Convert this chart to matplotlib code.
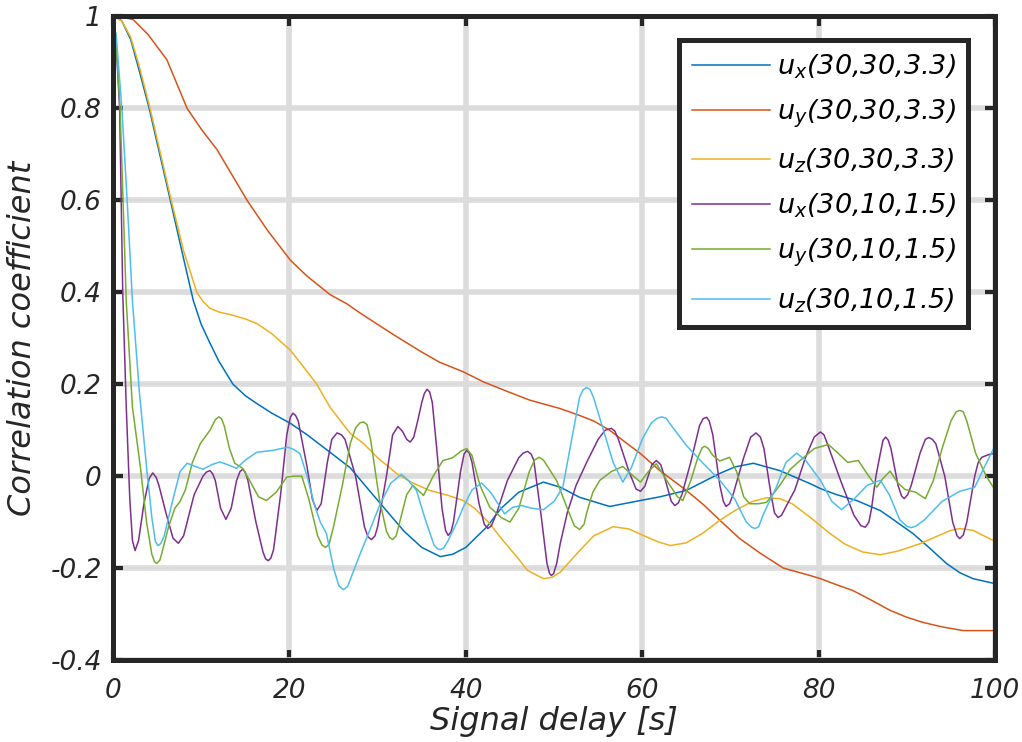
import matplotlib
matplotlib.use('Agg')
import matplotlib.pyplot as plt
from matplotlib.ticker import FormatStrFormatter

# u_x(30,30,3.3)
ux1_t = [0, 0.5, 1, 2, 3, 4.1, 5.3, 6.5, 7.8, 9.1, 10, 11, 12, 13.6, 15, 16.3, 18, 20.1, 22, 24.6,
         26.9, 29, 31, 33, 35, 37.1, 38.5, 40, 42.4, 44, 46, 48.8, 50.7, 52.9, 56.3, 59.8, 62, 65,
         68.8, 70.5, 72.6, 75.6, 79, 80.2, 82, 84.3, 87, 88.5, 90.7, 92.5, 94.5, 96, 97.5, 99.8, 100]
ux1 = [1, 0.998, 0.99, 0.95, 0.88, 0.8, 0.7, 0.6, 0.49, 0.382, 0.33, 0.289, 0.25, 0.2, 0.175, 0.158,
       0.137, 0.115, 0.09, 0.052, 0.018, -0.03, -0.075, -0.12, -0.155, -0.175, -0.17, -0.155, -0.11,
       -0.07, -0.035, -0.013, -0.024, -0.046, -0.066, -0.053, -0.045, -0.031, 0.006, 0.02, 0.028,
       0.012, -0.016, -0.027, -0.04, -0.053, -0.075, -0.095, -0.125, -0.155, -0.19, -0.21, -0.223,
       -0.233, -0.233]

# u_y(30,30,3.3)
uy1_t = [0, 1, 2.3, 4, 6.1, 8.4, 10, 11.8, 13.5, 15.2, 17.5, 20.1, 22, 24.6, 26.5, 28, 30, 32.2, 35,
         37, 39.7, 42, 45, 47.3, 50.7, 52.9, 54.5, 56.3, 58, 59.8, 62, 65, 67, 68.8, 71, 73.4, 76, 79,
         80.2, 82, 83.9, 86, 88.1, 90, 91.8, 94, 96.4, 99.8, 100]
uy1 = [1, 0.999, 0.993, 0.96, 0.906, 0.8, 0.755, 0.71, 0.655, 0.6, 0.535, 0.47, 0.435, 0.395, 0.375,
       0.355, 0.33, 0.303, 0.27, 0.248, 0.227, 0.205, 0.182, 0.165, 0.147, 0.132, 0.12, 0.1, 0.075,
       0.049, 0.012, -0.031, -0.063, -0.096, -0.135, -0.168, -0.2, -0.216, -0.223, -0.236, -0.249,
       -0.27, -0.292, -0.307, -0.318, -0.328, -0.336, -0.336, -0.336]

# u_z(30,30,3.3)
uz1_t = [0, 1, 2, 3, 4.2, 5.4, 6.6, 8, 9.5, 10.2, 11, 12, 13.6, 15, 16.3, 18, 20.1, 21.5, 23.1, 24.6,
         26, 26.9, 28.4, 30, 32.2, 34, 35.9, 38, 39.7, 41, 42.7, 44, 45.8, 47, 48.8, 49.8, 50.7, 52.9,
         54.5, 56.7, 58.5, 60, 61.8, 63.2, 65, 66.8, 68.8, 70.5, 72.5, 74.1, 75.6, 77, 79, 81.3, 83,
         85, 87, 89, 91.5, 93.5, 95, 96, 97.5, 99.8, 100]
uz1 = [1, 0.99, 0.955, 0.89, 0.8, 0.7, 0.6, 0.49, 0.4, 0.38, 0.365, 0.357, 0.35, 0.342, 0.332, 0.31,
       0.274, 0.24, 0.2, 0.15, 0.115, 0.093, 0.071, 0.04, 0.005, -0.015, -0.031, -0.042, -0.053,
       -0.07, -0.103, -0.135, -0.176, -0.205, -0.223, -0.22, -0.209, -0.162, -0.13, -0.11, -0.115,
       -0.128, -0.143, -0.151, -0.145, -0.125, -0.096, -0.075, -0.055, -0.047, -0.049, -0.06, -0.089,
       -0.125, -0.148, -0.165, -0.171, -0.163, -0.147, -0.13, -0.118, -0.114, -0.118, -0.14, -0.14]

# u_x(30,10,1.5)  (delay, coefficient)
ux2_pts = [(0, 1), (0.3, 0.96), (0.75, 0.8), (1.1, 0.4), (1.5, 0.15), (1.9, -0.05), (2.2, -0.14),
           (2.5, -0.162), (2.9, -0.14), (3.5, -0.06), (4.1, -0.005), (4.5, 0.007), (4.9, -0.003),
           (5.2, -0.02), (6.0, -0.08), (6.8, -0.135), (7.4, -0.146), (8.0, -0.13), (8.6, -0.085),
           (9.2, -0.04), (10.2, 0.0), (10.6, 0.009), (11, 0.012), (11.3, 0.005), (11.6, -0.01),
           (12.2, -0.07), (12.8, -0.094), (13.4, -0.07), (14.0, -0.01), (14.4, 0.01), (14.7, 0.015),
           (15.0, 0.008), (15.3, -0.01), (16.2, -0.1), (17, -0.165), (17.3, -0.18), (17.6, -0.184),
           (17.9, -0.178), (18.2, -0.16), (19, -0.04), (19.7, 0.09), (20.1, 0.128), (20.4, 0.137),
           (20.7, 0.132), (21, 0.12), (22, 0.02), (22.6, -0.05), (23.1, -0.075), (23.6, -0.06),
           (24.3, 0.03), (24.8, 0.08), (25.4, 0.094), (25.9, 0.09), (26.3, 0.08), (27.5, 0.0),
           (28.5, -0.11), (28.9, -0.132), (29.3, -0.138), (29.7, -0.13), (30, -0.11), (31, 0.0),
           (31.7, 0.09), (32.3, 0.108), (32.8, 0.098), (33.3, 0.08), (33.7, 0.074), (34.1, 0.085),
           (34.6, 0.125), (35, 0.16), (35.3, 0.18), (35.6, 0.189), (35.9, 0.183), (36.2, 0.16),
           (36.7, 0.06), (37.3, -0.07), (37.7, -0.118), (38, -0.129), (38.3, -0.122), (38.6, -0.1),
           (39.4, 0.01), (39.8, 0.048), (40.1, 0.056), (40.4, 0.05), (40.7, 0.03), (41.5, -0.06),
           (42.1, -0.105), (42.5, -0.114), (42.9, -0.108), (43.5, -0.08), (44.7, -0.01), (46, 0.04),
           (46.5, 0.05), (47, 0.054), (47.4, 0.048), (47.7, 0.035), (48.5, -0.08), (49.2, -0.19),
           (49.5, -0.212), (49.7, -0.216), (49.95, -0.212), (50.3, -0.19), (50.7, -0.147),
           (51.5, -0.08), (52.5, -0.02), (53.7, 0.03), (55, 0.08), (55.8, 0.1), (56.5, 0.104),
           (56.9, 0.098), (57.3, 0.08), (58.5, 0.01), (59.3, -0.028), (59.8, -0.033), (60.3, -0.022),
           (60.5, -0.01), (61.1, 0.025), (61.6, 0.034), (62.1, 0.025), (62.5, 0.0), (63.3, -0.055),
           (63.7, -0.064), (64.1, -0.058), (64.5, -0.04), (65.5, 0.03), (66.5, 0.11), (66.9, 0.125),
           (67.3, 0.128), (67.6, 0.12), (68, 0.09), (68.8, -0.02), (69.2, -0.055), (69.5, -0.066),
           (69.9, -0.06), (70.3, -0.04), (71.5, 0.04), (72.3, 0.085), (72.9, 0.094), (73.4, 0.085),
           (73.8, 0.06), (74.6, -0.04), (75.0, -0.08), (75.4, -0.09), (75.8, -0.085), (76.2, -0.07),
           (77.3, -0.03), (78.5, 0.04), (79.5, 0.085), (80.2, 0.096), (80.6, 0.09), (81, 0.07),
           (82.5, -0.01), (84, -0.085), (84.8, -0.108), (85.3, -0.111), (85.7, -0.1), (86, -0.07),
           (86.5, 0.0), (87, 0.05), (87.3, 0.078), (87.6, 0.085), (87.9, 0.078), (88.2, 0.06),
           (89, -0.02), (89.4, -0.043), (89.7, -0.049), (90.1, -0.04), (90.5, -0.02), (91.5, 0.05),
           (92.1, 0.08), (92.5, 0.084), (92.9, 0.08), (93.3, 0.07), (94.3, 0.0), (95.2, -0.1),
           (95.7, -0.13), (96, -0.136), (96.4, -0.128), (96.8, -0.1), (97.7, 0.0), (98.1, 0.03),
           (98.5, 0.041), (99.3, 0.047), (100, 0.05)]

# u_y(30,10,1.5)
uy2_pts = [(0, 1), (0.3, 0.96), (0.8, 0.8), (1.5, 0.38), (2.2, 0.15), (3.1, 0.02), (3.8, -0.1),
           (4.4, -0.17), (4.7, -0.186), (4.95, -0.19), (5.3, -0.183), (5.5, -0.17), (6.3, -0.11),
           (7.0, -0.07), (7.6, -0.055), (8.2, -0.03), (9.0, 0.03), (9.9, 0.071), (11, 0.1),
           (11.6, 0.123), (12, 0.129), (12.3, 0.125), (12.6, 0.11), (13.2, 0.06), (13.8, 0.028),
           (14.7, 0.017), (15.5, -0.01), (16.5, -0.045), (17.4, -0.053), (18.5, -0.035),
           (19.7, -0.002), (20.5, 0.0), (21.4, 0.0), (22.2, -0.05), (23.2, -0.13), (23.7, -0.15),
           (24.1, -0.155), (24.5, -0.148), (25, -0.11), (26, -0.02), (26.9, 0.071), (27.5, 0.105),
           (28.0, 0.116), (28.4, 0.118), (28.8, 0.112), (29.2, 0.08), (30.2, -0.05), (31, -0.12),
           (31.35, -0.133), (31.7, -0.138), (32.1, -0.13), (32.5, -0.1), (33.3, -0.04), (34, -0.02),
           (35.2, -0.042), (36.3, 0.0), (37.4, 0.034), (38.5, 0.04), (39.5, 0.055), (40.1, 0.06),
           (40.7, 0.045), (41.6, -0.02), (42.7, -0.067), (44, -0.09), (45, -0.1), (46, -0.07),
           (47.2, 0.01), (47.8, 0.035), (48.3, 0.041), (48.8, 0.035), (49.3, 0.02), (50.3, -0.01),
           (51.5, -0.07), (52.3, -0.108), (52.9, -0.116), (53.4, -0.105), (53.7, -0.08),
           (54.4, -0.035), (55.2, -0.009), (56.5, 0.01), (57.8, 0.021), (59, 0.0), (59.8, -0.013),
           (60.7, 0.01), (61.6, 0.027), (62.8, -0.01), (64, -0.045), (64.6, -0.053), (65.5, -0.01),
           (66.3, 0.04), (66.8, 0.062), (67.1, 0.065), (67.5, 0.06), (68, 0.045), (68.8, 0.033),
           (69.9, 0.041), (70.7, 0.01), (71.5, -0.045), (72.2, -0.06), (73.2, -0.06), (74.1, -0.057),
           (75.6, -0.02), (76.8, 0.015), (77.9, 0.034), (79.5, 0.06), (81.1, 0.069), (82.2, 0.05),
           (83.3, 0.03), (84.5, 0.034), (85.5, 0.005), (86.6, -0.024), (87.3, -0.005), (88.1, 0.011),
           (89, -0.015), (89.8, -0.029), (91, -0.035), (92.1, -0.049), (93, -0.01), (94, 0.06),
           (95, 0.12), (95.6, 0.14), (96, 0.143), (96.4, 0.14), (96.8, 0.12), (97.8, 0.05),
           (99, 0.0), (100, -0.03)]

# u_z(30,10,1.5)
uz2_pts = [(0, 1), (0.4, 0.95), (1.0, 0.8), (1.6, 0.6), (2.2, 0.38), (3.0, 0.18), (3.8, 0.02),
           (4.4, -0.09), (4.8, -0.142), (5.1, -0.151), (5.4, -0.147), (5.8, -0.13), (6.8, -0.05),
           (7.6, 0.01), (8.4, 0.028), (9.2, 0.022), (10.2, 0.015), (11.2, 0.025), (12.1, 0.031),
           (13, 0.025), (14, 0.017), (15, 0.035), (16.3, 0.052), (18.1, 0.056), (19.8, 0.063),
           (20.5, 0.058), (21.2, 0.049), (22, 0.0), (22.8, -0.06), (23.5, -0.1), (24.2, -0.125),
           (25, -0.2), (25.6, -0.238), (26.1, -0.247), (26.6, -0.24), (27, -0.22), (28, -0.17),
           (29.1, -0.118), (30.3, -0.06), (31.5, -0.015), (32.7, 0.004), (33.5, -0.01),
           (34.4, -0.031), (35.5, -0.1), (36.4, -0.15), (36.8, -0.158), (37.1, -0.16),
           (37.5, -0.156), (38, -0.14), (39, -0.1), (39.7, -0.068), (40.7, -0.03), (41.8, -0.015),
           (42.8, -0.035), (44.4, -0.082), (45.3, -0.068), (46.3, -0.064), (47.5, -0.07),
           (48.8, -0.073), (50, -0.055), (51, -0.024), (52, 0.08), (52.9, 0.172), (53.3, 0.188),
           (53.7, 0.193), (54.1, 0.188), (54.5, 0.17), (55.6, 0.1), (56.7, 0.03), (57.8, -0.013),
           (58.8, 0.02), (60, 0.08), (61, 0.115), (61.7, 0.126), (62.2, 0.129), (62.7, 0.126),
           (63.3, 0.11), (65, 0.067), (66.8, 0.03), (68.8, -0.009), (70.5, -0.05), (71.8, -0.1),
           (72.4, -0.111), (72.8, -0.114), (73.2, -0.11), (73.8, -0.08), (75.2, -0.024),
           (76.3, 0.03), (77.5, 0.05), (78.5, 0.035), (80.2, -0.009), (81.5, -0.055), (82.6, -0.073),
           (84, -0.05), (85.5, -0.02), (87, -0.009), (88, -0.04), (89.2, -0.095), (90, -0.109),
           (90.5, -0.112), (91, -0.109), (92, -0.095), (94, -0.055), (96, -0.033), (97.7, -0.024),
           (98.8, 0.02), (100, 0.066)]

labels = [r'$u_x$(30,30,3.3)', r'$u_y$(30,30,3.3)', r'$u_z$(30,30,3.3)',
          r'$u_x$(30,10,1.5)', r'$u_y$(30,10,1.5)', r'$u_z$(30,10,1.5)']
colors = ['#0072BD', '#D95319', '#EDB120', '#7E2F8E', '#77AC30', '#4DBEEE']

xticks = [0, 20, 40, 60, 80, 100]
yticks = [-0.4, -0.2, 0, 0.2, 0.4, 0.6, 0.8, 1]

plt.rcParams['font.family'] = 'DejaVu Sans'
plt.rcParams['font.style'] = 'italic'
plt.rcParams['mathtext.fontset'] = 'dejavusans'
plt.rcParams['axes.unicode_minus'] = False

dark = '#262626'

fig = plt.figure(figsize=(10.22, 7.42), dpi=100)
ax = fig.add_axes([0.1106, 0.1105, 0.8630, 0.8673])

series = [(ux1_t, ux1), (uy1_t, uy1), (uz1_t, uz1),
          tuple(zip(*ux2_pts)), tuple(zip(*uy2_pts)), tuple(zip(*uz2_pts))]
for (t, v), c, lab in zip(series, colors, labels):
    ax.plot(t, v, color=c, lw=1.1, label=lab)

ax.set_xlim(0, 100)
ax.set_ylim(-0.4, 1)
ax.set_xticks(xticks)
ax.set_yticks(yticks)
ax.yaxis.set_major_formatter(FormatStrFormatter('%g'))
ax.grid(True, color='#dcdcdc', lw=4)
ax.set_axisbelow(True)
for s in ax.spines.values():
    s.set_linewidth(3.6)
    s.set_color(dark)
ax.tick_params(direction='in', length=7, width=3, colors=dark, labelsize=19,
               top=True, right=True, pad=8)
ax.tick_params(axis='x', pad=13)

ax.set_xlabel('Signal delay [s]', fontsize=23, color=dark, labelpad=1.5)
ax.set_ylabel('Correlation coefficient', fontsize=23, color=dark, labelpad=9)

leg = ax.legend(loc='upper right', bbox_to_anchor=(0.9694, 0.9635), borderaxespad=0,
                fontsize=19.5, handlelength=2.9, handletextpad=0.25, labelspacing=0.62,
                borderpad=0.45, fancybox=False, framealpha=1)
leg.get_frame().set_edgecolor(dark)
leg.get_frame().set_linewidth(3.6)

fig.savefig('out.png', dpi=100)
